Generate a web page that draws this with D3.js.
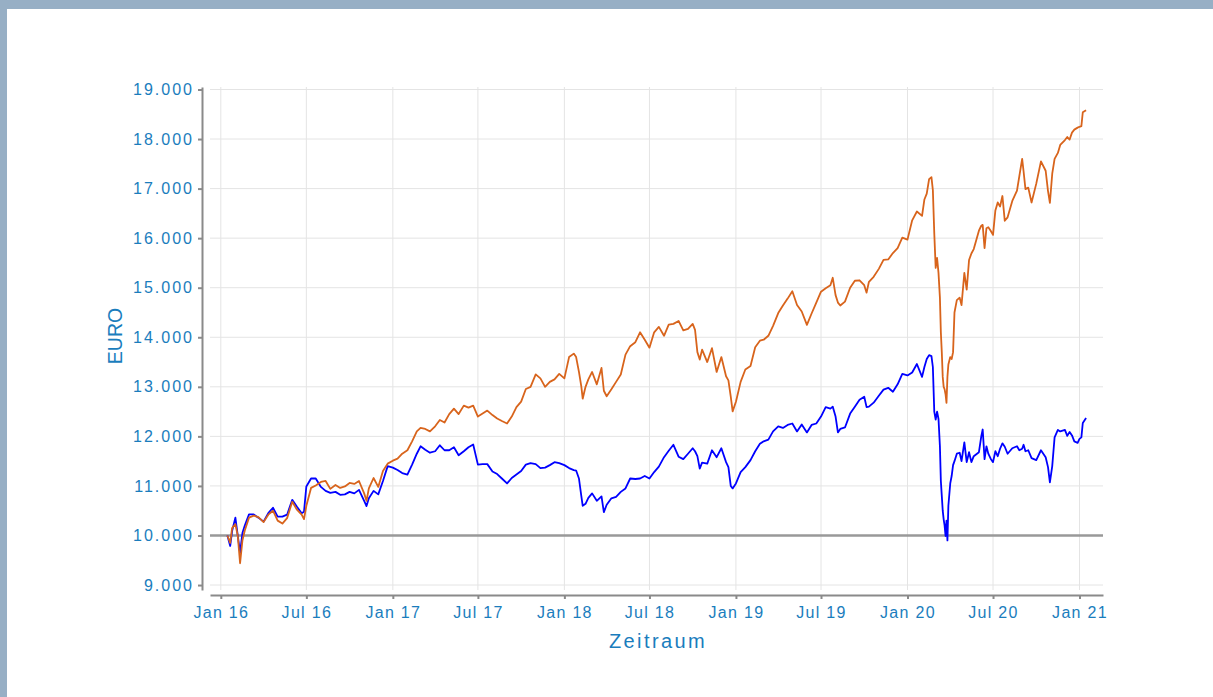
<!DOCTYPE html>
<html>
<head>
<meta charset="utf-8">
<script src="https://cdn.jsdelivr.net/npm/d3@7"></script>
<style>
  html, body { margin: 0; padding: 0; background: #ffffff; }
  svg { display: block; }
</style>
</head>
<body>
<svg id="chart" width="1213" height="697"></svg>
<script>
// ---------------- DATA ----------------
const dates = [
"2016-01-15","2016-01-21","2016-01-25","2016-02-01","2016-02-06","2016-02-11","2016-02-16","2016-02-21",
"2016-03-01","2016-03-11","2016-03-21","2016-04-01","2016-04-11","2016-04-21","2016-05-01","2016-05-11",
"2016-05-21","2016-06-01","2016-06-11","2016-06-21","2016-06-26","2016-07-01","2016-07-11","2016-07-21",
"2016-08-01","2016-08-11","2016-08-21","2016-09-01","2016-09-11","2016-09-21","2016-10-01","2016-10-11",
"2016-10-21","2016-11-01","2016-11-06","2016-11-11","2016-11-21","2016-12-01","2016-12-11","2016-12-21",
"2017-01-01","2017-01-11","2017-01-21","2017-02-01","2017-02-11","2017-02-21","2017-03-01","2017-03-11",
"2017-03-21","2017-04-01","2017-04-11","2017-04-21","2017-05-01","2017-05-11","2017-05-21","2017-06-01",
"2017-06-11","2017-06-21","2017-07-01","2017-07-11","2017-07-21","2017-08-01","2017-08-11","2017-08-21",
"2017-09-01","2017-09-11","2017-09-21","2017-10-01","2017-10-11","2017-10-21","2017-11-01","2017-11-11",
"2017-11-21","2017-12-01","2017-12-11","2017-12-21",
"2018-01-01","2018-01-11","2018-01-21","2018-01-26","2018-02-01","2018-02-06","2018-02-09","2018-02-15",
"2018-02-21","2018-03-01","2018-03-11","2018-03-21","2018-03-26","2018-04-01","2018-04-11","2018-04-21",
"2018-05-01","2018-05-11","2018-05-21","2018-06-01","2018-06-11","2018-06-21","2018-07-01","2018-07-11",
"2018-07-21","2018-08-01","2018-08-11","2018-08-21","2018-09-01","2018-09-11","2018-09-21","2018-10-01",
"2018-10-06","2018-10-11","2018-10-16","2018-10-21","2018-11-01","2018-11-11","2018-11-21","2018-12-01",
"2018-12-11","2018-12-16","2018-12-21","2018-12-25",
"2019-01-01","2019-01-11","2019-01-21","2019-02-01","2019-02-11","2019-02-21","2019-03-01","2019-03-11",
"2019-03-21","2019-04-01","2019-04-11","2019-04-21","2019-05-01","2019-05-11","2019-05-21","2019-06-01",
"2019-06-11","2019-06-21","2019-07-01","2019-07-11","2019-07-21","2019-07-26","2019-08-01","2019-08-06",
"2019-08-11","2019-08-21","2019-09-01","2019-09-11","2019-09-21","2019-10-01","2019-10-06","2019-10-11",
"2019-10-21","2019-11-01","2019-11-11","2019-11-21","2019-12-01","2019-12-11","2019-12-21",
"2020-01-01","2020-01-11","2020-01-21","2020-02-01","2020-02-06","2020-02-11","2020-02-16","2020-02-21",
"2020-02-24","2020-02-27","2020-03-01","2020-03-04","2020-03-07","2020-03-10","2020-03-12","2020-03-14",
"2020-03-16","2020-03-18","2020-03-20","2020-03-22","2020-03-24","2020-03-26","2020-03-28","2020-04-01",
"2020-04-04","2020-04-07","2020-04-10","2020-04-15","2020-04-21","2020-04-25","2020-05-01","2020-05-06",
"2020-05-11","2020-05-16","2020-05-21","2020-06-01","2020-06-06","2020-06-09","2020-06-13","2020-06-17",
"2020-06-21","2020-06-26","2020-07-01","2020-07-06","2020-07-11","2020-07-16","2020-07-21","2020-07-26",
"2020-08-01","2020-08-11","2020-08-21","2020-08-26","2020-09-01","2020-09-04","2020-09-08","2020-09-14",
"2020-09-21","2020-10-01","2020-10-11","2020-10-21","2020-10-26","2020-10-30","2020-11-04","2020-11-09",
"2020-11-16","2020-11-21","2020-12-01","2020-12-06","2020-12-11","2020-12-16","2020-12-21","2020-12-28",
"2021-01-01","2021-01-05","2021-01-08","2021-01-15"
];

// blue series (EURO)
const blueValues = [
10000,9788,10090,10360,10000,9655,10050,10200,
10425,10425,10360,10280,10450,10560,10380,10380,
10420,10720,10580,10450,10480,10990,11150,11150,
10980,10900,10860,10880,10820,10830,10880,10850,
10920,10700,10593,10750,10900,10830,11100,11400,
11370,11320,11260,11230,11430,11650,11800,11730,
11670,11700,11820,11720,11720,11780,11620,11700,
11780,11835,11430,11440,11440,11290,11240,11150,
11050,11160,11230,11300,11430,11460,11440,11360,
11370,11420,11480,11460,
11420,11360,11320,11310,11150,10800,10600,10640,
10760,10850,10700,10790,10470,10620,10750,10780,
10880,10950,11150,11140,11150,11200,11150,11280,
11390,11580,11710,11830,11590,11540,11650,11760,
11700,11600,11350,11470,11450,11720,11580,11760,
11480,11380,11000,10950,
11050,11280,11380,11520,11700,11850,11900,11935,
12100,12200,12170,12230,12260,12100,12240,12080,
12230,12260,12400,12590,12560,12600,12400,12080,
12150,12180,12460,12600,12740,12800,12590,12600,
12680,12820,12943,12980,12900,13050,13260,
13230,13290,13460,13200,13400,13560,13640,13620,
13400,12500,12340,12500,12350,11800,11100,10800,
10500,10326,10200,9990,10300,9900,10600,11050,
11200,11420,11500,11650,11670,11500,11880,11480,
11680,11480,11600,11680,12000,12138,11540,11800,
11650,11550,11480,11700,11600,11750,11860,11790,
11650,11760,11800,11720,11750,11830,11700,11720,
11560,11520,11720,11580,11380,11070,11400,11980,
12130,12100,12130,12010,12090,12020,11900,11870,
11950,11980,12270,12372
];

// orange series (EURO)
const orangeValues = [
10000,9850,10150,10230,10000,9440,9900,10100,
10360,10400,10370,10270,10420,10500,10300,10240,
10350,10680,10520,10420,10330,10600,10960,11010,
11080,11100,10940,11020,10960,10990,11060,11040,
11100,10850,10700,10950,11160,10980,11300,11450,
11510,11550,11650,11720,11900,12100,12170,12150,
12100,12204,12330,12280,12450,12560,12450,12620,
12580,12620,12400,12460,12520,12430,12360,12310,
12260,12400,12590,12700,12955,13000,13250,13170,
13000,13100,13150,13260,
13170,13600,13670,13600,13300,13010,12760,13000,
13150,13300,13050,13380,12920,12810,12950,13100,
13250,13650,13820,13900,14100,13950,13790,14100,
14210,14030,14253,14270,14330,14140,14170,14270,
14150,13700,13550,13750,13500,13780,13300,13600,
13212,13130,12800,12505,
12700,13100,13350,13420,13800,13930,13950,14030,
14230,14488,14640,14780,14930,14650,14520,14250,
14480,14700,14920,14990,15050,15200,14850,14700,
14640,14720,15000,15140,15150,15050,14900,15120,
15220,15380,15560,15570,15700,15800,16010,
15970,16360,16537,16450,16780,16900,17190,17230,
16970,16100,15400,15600,15300,14800,14100,13700,
13200,13000,12950,12850,12675,13200,13450,13600,
13560,13700,14500,14750,14800,14650,15300,14960,
15560,15690,15780,16150,16250,16268,15797,16200,
16220,16150,16066,16560,16720,16640,16850,16350,
16420,16750,16960,17250,17600,17350,16990,17020,
16720,17100,17550,17360,16950,16710,17300,17600,
17720,17880,17980,18040,17990,18130,18190,18230,
18247,18260,18540,18583
];

const yTicks = [9000,10000,11000,12000,13000,14000,15000,16000,17000,18000,19000];
const xTickDates = ["2016-01-01","2016-07-01","2017-01-01","2017-07-01","2018-01-01","2018-07-01",
                    "2019-01-01","2019-07-01","2020-01-01","2020-07-01","2021-01-01"];
const xTickLabels = ["Jan 16","Jul 16","Jan 17","Jul 17","Jan 18","Jul 18",
                     "Jan 19","Jul 19","Jan 20","Jul 20","Jan 21"];
const baseline = 10000;
const yTitle = "EURO";
const xTitle = "Zeitraum";

// ---------------- DRAW ----------------
const parse = d3.utcParse("%Y-%m-%d");
const textColor = "#1a7dbd";
const axisColor = "#8a8a8a";
const fontFam = "'Liberation Sans', Arial, Helvetica, sans-serif";

const svg = d3.select("#chart");

// page frame
svg.append("rect").attr("x",0).attr("y",0).attr("width",1213).attr("height",697).attr("fill","#ffffff");
svg.append("rect").attr("x",0).attr("y",0).attr("width",1213).attr("height",9).attr("fill","#97afc5");
svg.append("rect").attr("x",0).attr("y",0).attr("width",7).attr("height",697).attr("fill","#97afc5");

const plot = {left:210, right:1103, top:87, bottom:590};

const x = d3.scaleUtc()
  .domain([parse("2015-12-09"), parse("2021-02-20")])
  .range([plot.left, plot.right]);
const y = d3.scaleLinear()
  .domain([8900, 19050])
  .range([plot.bottom, plot.top]);

// grid
const grid = svg.append("g");
grid.selectAll("line.h").data(yTicks).enter().append("line")
  .attr("x1", plot.left).attr("x2", plot.right)
  .attr("y1", d => y(d)).attr("y2", d => y(d))
  .attr("stroke", "#e4e4e4").attr("stroke-width", 1);
grid.selectAll("line.v").data(xTickDates).enter().append("line")
  .attr("x1", d => x(parse(d))).attr("x2", d => x(parse(d)))
  .attr("y1", plot.top).attr("y2", plot.bottom)
  .attr("stroke", "#e4e4e4").attr("stroke-width", 1);

// baseline 10.000
svg.append("line")
  .attr("x1", plot.left).attr("x2", plot.right)
  .attr("y1", y(baseline)).attr("y2", y(baseline))
  .attr("stroke", "#999999").attr("stroke-width", 2.5);

// axes
const deFmt = d3.formatLocale({decimal:",", thousands:".", grouping:[3], currency:["","€"]}).format(",.0f");

const yAxis = svg.append("g")
  .attr("transform", "translate(202,0)")
  .call(d3.axisLeft(y).tickValues(yTicks).tickFormat(deFmt).tickSize(4).tickSizeOuter(0).tickPadding(4));
const xAxis = svg.append("g")
  .attr("transform", "translate(0,595)")
  .call(d3.axisBottom(x).tickValues(xTickDates.map(parse))
        .tickFormat((d,i) => xTickLabels[i]).tickSize(4).tickSizeOuter(0).tickPadding(8));

[yAxis, xAxis].forEach(g => {
  g.select(".domain").attr("stroke", axisColor).attr("stroke-width", 2);
  g.selectAll(".tick line").attr("stroke", axisColor).attr("stroke-width", 2);
  g.selectAll(".tick text")
    .attr("fill", textColor)
    .style("font-family", fontFam)
    .style("font-size", "16px")
    .style("letter-spacing", "1.3px");
});
yAxis.selectAll(".tick text").style("letter-spacing", "2px");

// series
const blueData = dates.map((d,i) => ({date: parse(d), v: blueValues[i]}));
const orangeData = dates.map((d,i) => ({date: parse(d), v: orangeValues[i]}));
const line = d3.line().x(d => x(d.date)).y(d => y(d.v));

svg.append("path").datum(blueData)
  .attr("d", line).attr("fill", "none")
  .attr("stroke", "#0000ff").attr("stroke-width", 1.8).attr("stroke-linejoin", "round");
svg.append("path").datum(orangeData)
  .attr("d", line).attr("fill", "none")
  .attr("stroke", "#d8641c").attr("stroke-width", 1.8).attr("stroke-linejoin", "round");

// titles
svg.append("text")
  .attr("transform", "translate(121.5,336) rotate(-90)")
  .attr("text-anchor", "middle")
  .attr("fill", textColor)
  .style("font-family", fontFam)
  .style("font-size", "19.5px")
  .text(yTitle);

svg.append("text")
  .attr("x", 658).attr("y", 648)
  .attr("text-anchor", "middle")
  .attr("fill", textColor)
  .style("font-family", fontFam)
  .style("font-size", "20px")
  .style("letter-spacing", "2.4px")
  .text(xTitle);
</script>
</body>
</html>
